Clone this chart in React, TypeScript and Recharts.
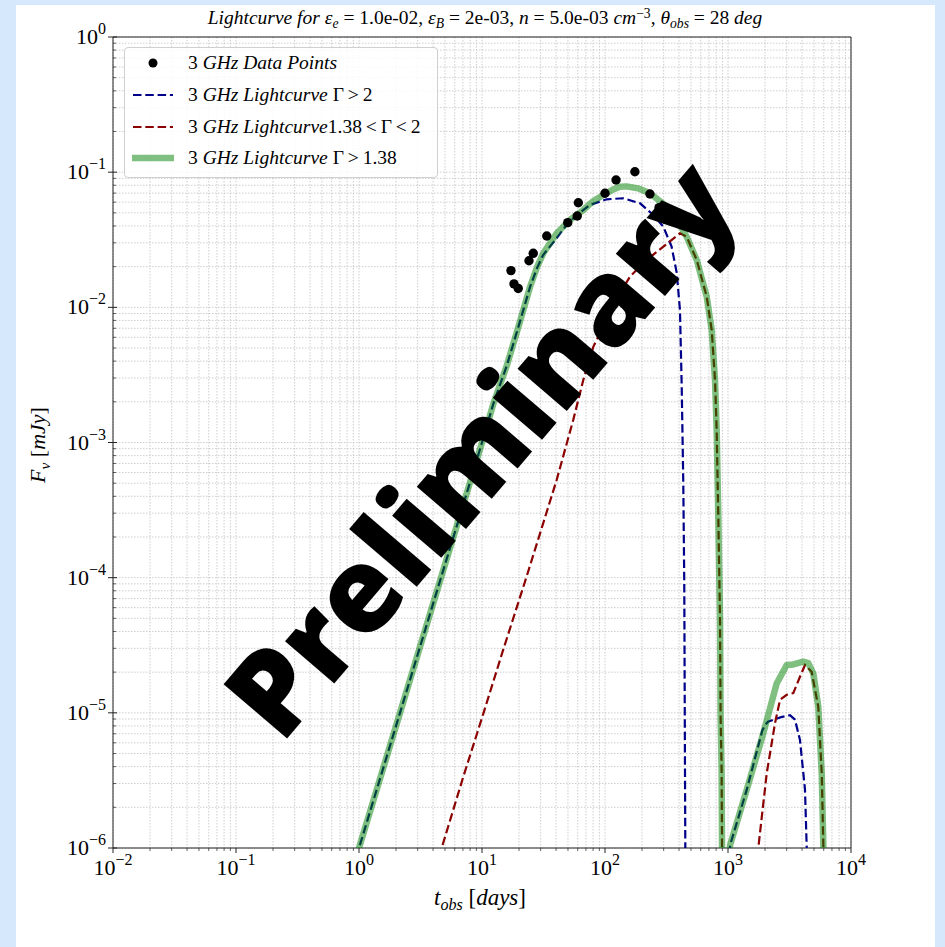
import React from 'react';
import { ComposedChart, Line, Scatter, XAxis, YAxis, CartesianGrid, ReferenceArea } from 'recharts';

// 3 GHz observations [t_obs (days), F_nu (mJy)]
const dataPoints: [number, number][] = [
  [17.2, 0.0187], [18.2, 0.0149], [19.7, 0.0138], [24.1, 0.0221], [26.1, 0.0251],
  [33.6, 0.0337], [49.8, 0.0423], [59.5, 0.0474], [60.7, 0.0594], [100, 0.0698],
  [123, 0.0875], [175, 0.1008], [232, 0.069], [275, 0.0546], [311, 0.0448],
];

// Gamma > 2
const curveHigh: [number, number | null][] = [
  [0.95, 8.6e-7], [1, 1e-6], [2, 8e-6], [3, 2.7e-5], [5, 1.25e-4], [7, 3.4e-4], [10, 1e-3],
  [12.4, 1.95e-3], [15.9, 3.7e-3], [20.4, 7.9e-3], [24.6, 0.0142], [28, 0.0195], [31.5, 0.0245],
  [40.5, 0.0325], [49, 0.041], [58.9, 0.0482], [75.5, 0.0572], [103, 0.063], [141, 0.0641],
  [193, 0.0588], [247, 0.0482], [298, 0.0395], [348, 0.0281], [383, 0.018], [407, 0.0095],
  [420, 2.7e-3], [433, 5.0e-4], [441, 9.1e-5], [447, 3.8e-6], [450, 9e-7], [700, null],
  [1030, 9e-7], [1040, 1.05e-6], [1419, 2.69e-6], [1900, 7.4e-6], [2000, 8.1e-6], [2115, 8.6e-6],
  [2700, 9.3e-6], [3192, 9.6e-6], [3505, 8.9e-6], [3847, 6.3e-6], [4227, 2.69e-6], [4380, 9e-7],
];

// 1.38 < Gamma < 2
const curveMid: [number, number | null][] = [
  [4.5, 8.6e-7], [4.7, 1e-6], [7, 3.3e-6], [10.3, 1e-5], [15, 3.0e-5], [22.9, 1e-4],
  [30, 2.2e-4], [40.5, 5.3e-4], [55.2, 1.47e-3], [66.6, 2.9e-3], [80.3, 5.1e-3],
  [103, 8.06e-3], [132, 0.0127], [160, 0.0169], [218, 0.0224], [298, 0.0281], [407, 0.0353],
  [461, 0.0333], [557, 0.0224], [671, 0.012], [737, 6.8e-3], [784, 2.9e-3], [809, 1.24e-3],
  [834, 2.83e-4], [861, 5.1e-5], [871, 9.4e-6], [887, 3.8e-6], [895, 9e-7], [1300, null],
  [1740, 8.6e-7], [1763, 1e-6], [2065, 3.57e-6], [2410, 8.37e-6], [2649, 1.25e-5], [3000, 1.36e-5],
  [3396, 1.4e-5], [3847, 1.85e-5], [4227, 2.26e-5], [4786, 2.01e-5], [5420, 1.11e-5],
  [5780, 3.57e-6], [5980, 9e-7],
];

// Gamma > 1.38
const curveTotal: [number, number | null][] = [
  [0.95, 8.6e-7], [1, 1e-6], [2, 8e-6], [3, 2.7e-5], [5, 1.25e-4], [7, 3.4e-4], [10, 1e-3],
  [12.4, 1.95e-3], [15.9, 3.7e-3], [20.4, 7.9e-3], [24.6, 0.0142], [28, 0.0198], [31.5, 0.0251],
  [40.5, 0.0353], [51.9, 0.0443], [66.6, 0.0525], [80, 0.061], [96.9, 0.0678], [115, 0.074],
  [132, 0.0781], [150, 0.0785], [190, 0.0755], [232, 0.0698], [280, 0.061], [338, 0.0525],
  [400, 0.042], [461, 0.0333], [557, 0.0224], [671, 0.012], [737, 6.8e-3], [784, 2.9e-3],
  [809, 1.24e-3], [834, 2.83e-4], [861, 5.1e-5], [871, 9.4e-6], [887, 3.8e-6], [895, 9e-7], [950, null],
  [1030, 9e-7], [1040, 1.05e-6], [1419, 2.69e-6], [1937, 7.06e-6], [2488, 1.65e-5], [3000, 2.26e-5],
  [3400, 2.28e-5], [4093, 2.39e-5], [4495, 2.33e-5], [4936, 1.96e-5], [5420, 1.11e-5],
  [5780, 3.57e-6], [5980, 9e-7],
];

const xDecades = [0.01, 0.1, 1, 10, 100, 1000, 10000];
const yDecades = [1e-6, 1e-5, 1e-4, 1e-3, 1e-2, 1e-1, 1];
const minorSteps = [2, 3, 4, 5, 6, 7, 8, 9];

const withMinor = (decades: number[]) => {
  const out: number[] = [];
  decades.forEach((d, i) => {
    out.push(d);
    if (i < decades.length - 1) minorSteps.forEach((m) => out.push(+(d * m).toPrecision(3)));
  });
  return out;
};
const xTicks = withMinor(xDecades);
const yTicks = withMinor(yDecades);

const toRows = (arr: [number, number | null][]) => arr.map(([t, f]) => ({ t, f }));

const W = 945;
const H = 947;
const M = { top: 37, right: 94, bottom: 69, left: 53 };
const PLOT_LEFT = 113;
const PLOT_BOTTOM = 848;
const SERIF = '"Liberation Serif", "DejaVu Serif", serif';
const DASH = '8.5 3.8';

const isMajor = (v: number) => Math.abs(Math.log10(v) - Math.round(Math.log10(v))) < 1e-6;
const expText = (v: number) => {
  const e = Math.round(Math.log10(v));
  return e < 0 ? `\u2212${-e}` : `${e}`;
};

function XTick({ x, payload }: any) {
  const v = payload.value;
  const major = isMajor(v);
  return (
    <g>
      <line x1={x} x2={x} y1={PLOT_BOTTOM} y2={PLOT_BOTTOM + (major ? 5 : 3)} stroke="#222" strokeWidth={major ? 1 : 0.7} />
      {major && (
        <text x={x} y={PLOT_BOTTOM + 27} textAnchor="middle" fontFamily={SERIF} fontSize={22} fill="#000">
          10<tspan dy={-10} fontSize={16}>{expText(v)}</tspan>
        </text>
      )}
    </g>
  );
}

function YTick({ y, payload }: any) {
  const v = payload.value;
  const major = isMajor(v);
  return (
    <g>
      <line x1={PLOT_LEFT - (major ? 5 : 0)} x2={PLOT_LEFT + (major ? 4 : 3)} y1={y} y2={y} stroke="#222" strokeWidth={major ? 1 : 0.7} />
      {major && (
        <text x={PLOT_LEFT - 7} y={y + 7} textAnchor="end" fontFamily={SERIF} fontSize={22} fill="#000">
          10<tspan dy={-10} fontSize={16}>{expText(v)}</tspan>
        </text>
      )}
    </g>
  );
}

const sub: React.CSSProperties = { fontSize: '0.7em', position: 'relative', top: '0.3em' };
const sup: React.CSSProperties = { fontSize: '0.7em', position: 'relative', top: '-0.45em' };

function LegendBox() {
  const row = (top: number, sym: React.ReactNode, label: React.ReactNode) => (
    <div style={{ position: 'absolute', left: 0, top: top - 12, height: 24, display: 'flex', alignItems: 'center' }}>
      <svg width={60} height={24} style={{ display: 'block' }}>{sym}</svg>
      <span style={{ marginLeft: 3, whiteSpace: 'nowrap' }}>{label}</span>
    </div>
  );
  return (
    <div
      style={{
        position: 'absolute', left: 124, top: 47, width: 312, height: 129,
        background: 'rgba(255,255,255,0.85)', border: '1px solid #d0d0d0', borderRadius: 4,
        fontFamily: SERIF, fontSize: 19.5, color: '#000',
      }}
    >
      {row(15, <circle cx={28} cy={12} r={4.5} fill="#000" />, <>3 <i>GHz Data Points</i></>)}
      {row(47, <line x1={8} x2={48} y1={12} y2={12} stroke="#00008b" strokeWidth={2.2} strokeDasharray={DASH} />,
        <>3 <i>GHz Lightcurve</i> Γ&thinsp;&gt;&thinsp;2</>)}
      {row(79, <line x1={8} x2={48} y1={12} y2={12} stroke="#8b0000" strokeWidth={2.2} strokeDasharray={DASH} />,
        <>3 <i>GHz Lightcurve</i>1.38&thinsp;&lt;&thinsp;Γ&thinsp;&lt;&thinsp;2</>)}
      {row(110, <line x1={7} x2={49} y1={12} y2={12} stroke="green" strokeOpacity={0.5} strokeWidth={6.5} />,
        <>3 <i>GHz Lightcurve</i> Γ&thinsp;&gt;&thinsp;1.38</>)}
    </div>
  );
}

export default function App() {
  return (
    <div style={{ position: 'absolute', left: 0, top: 0, width: W, height: H, background: '#d6e9fc', overflow: 'hidden' }}>
      <div style={{ position: 'absolute', left: 16, top: 5, width: 919, height: H - 5, background: '#fff' }} />
      <div style={{ position: 'absolute', left: 0, top: 0 }}>
        <ComposedChart width={W} height={H} margin={M}>
          <CartesianGrid stroke="#c2c2c2" strokeWidth={0.8} strokeDasharray="1.5 1.5" />
          <XAxis
            dataKey="t" type="number" scale="log" domain={[0.01, 10000]} allowDataOverflow
            ticks={xTicks} interval={0} height={30} axisLine={false} tickLine={false} tick={XTick}
          />
          <YAxis
            type="number" scale="log" domain={[1e-6, 1]} allowDataOverflow
            ticks={yTicks} interval={0} width={60} axisLine={false} tickLine={false} tick={YTick}
          />
          <Scatter
            data={toRows(dataPoints)} dataKey="f" isAnimationActive={false}
            shape={(p: any) => <circle cx={p.cx} cy={p.cy} r={4.7} fill="#000" />}
          />
          <Line data={toRows(curveHigh)} dataKey="f" type="linear" stroke="#00008b" strokeWidth={2.2}
            strokeDasharray={DASH} dot={false} activeDot={false} isAnimationActive={false} />
          <Line data={toRows(curveMid)} dataKey="f" type="linear" stroke="#8b0000" strokeWidth={2.2}
            strokeDasharray={DASH} dot={false} activeDot={false} isAnimationActive={false} />
          <Line data={toRows(curveTotal)} dataKey="f" type="linear" stroke="green" strokeOpacity={0.5}
            strokeWidth={6.5} strokeLinejoin="round" dot={false} activeDot={false} isAnimationActive={false} />
          <ReferenceArea x1={0.01} x2={10000} y1={1e-6} y2={1} fill="none" stroke="#222" strokeWidth={1} />
        </ComposedChart>
      </div>

      <div style={{ position: 'absolute', left: 485, top: 18, transform: 'translate(-50%, -50%)',
        fontFamily: SERIF, fontSize: 19.5, whiteSpace: 'nowrap', lineHeight: 1 }}>
        <i>Lightcurve for ε<span style={sub}>e</span></i> = 1.0e-02, <i>ε<span style={sub}>B</span></i> = 2e-03,{' '}
        <i>n</i> = 5.0e-03 <i>cm</i><span style={sup}>−3</span>, <i>θ<span style={sub}>obs</span></i> = 28 <i>deg</i>
      </div>

      <div style={{ position: 'absolute', left: 38, top: 445, transform: 'translate(-50%, -50%) rotate(-90deg)',
        fontFamily: SERIF, fontSize: 22, whiteSpace: 'nowrap' }}>
        <i>F<span style={sub}>ν</span></i> [<i>mJy</i>]
      </div>

      <div style={{ position: 'absolute', left: 480, top: 897, transform: 'translate(-50%, -50%)',
        fontFamily: SERIF, fontSize: 23, whiteSpace: 'nowrap', lineHeight: 1 }}>
        <i>t<span style={sub}>obs</span></i> [<i>days</i>]
      </div>

      <LegendBox />

      <div style={{ position: 'absolute', left: 477, top: 446, transform: 'translate(-50%, -50%) rotate(-49.5deg)',
        fontFamily: '"Open Sans", sans-serif', fontWeight: 800, fontSize: 117, lineHeight: 1, color: '#000', whiteSpace: 'nowrap' }}>
        Preliminary
      </div>
    </div>
  );
}
